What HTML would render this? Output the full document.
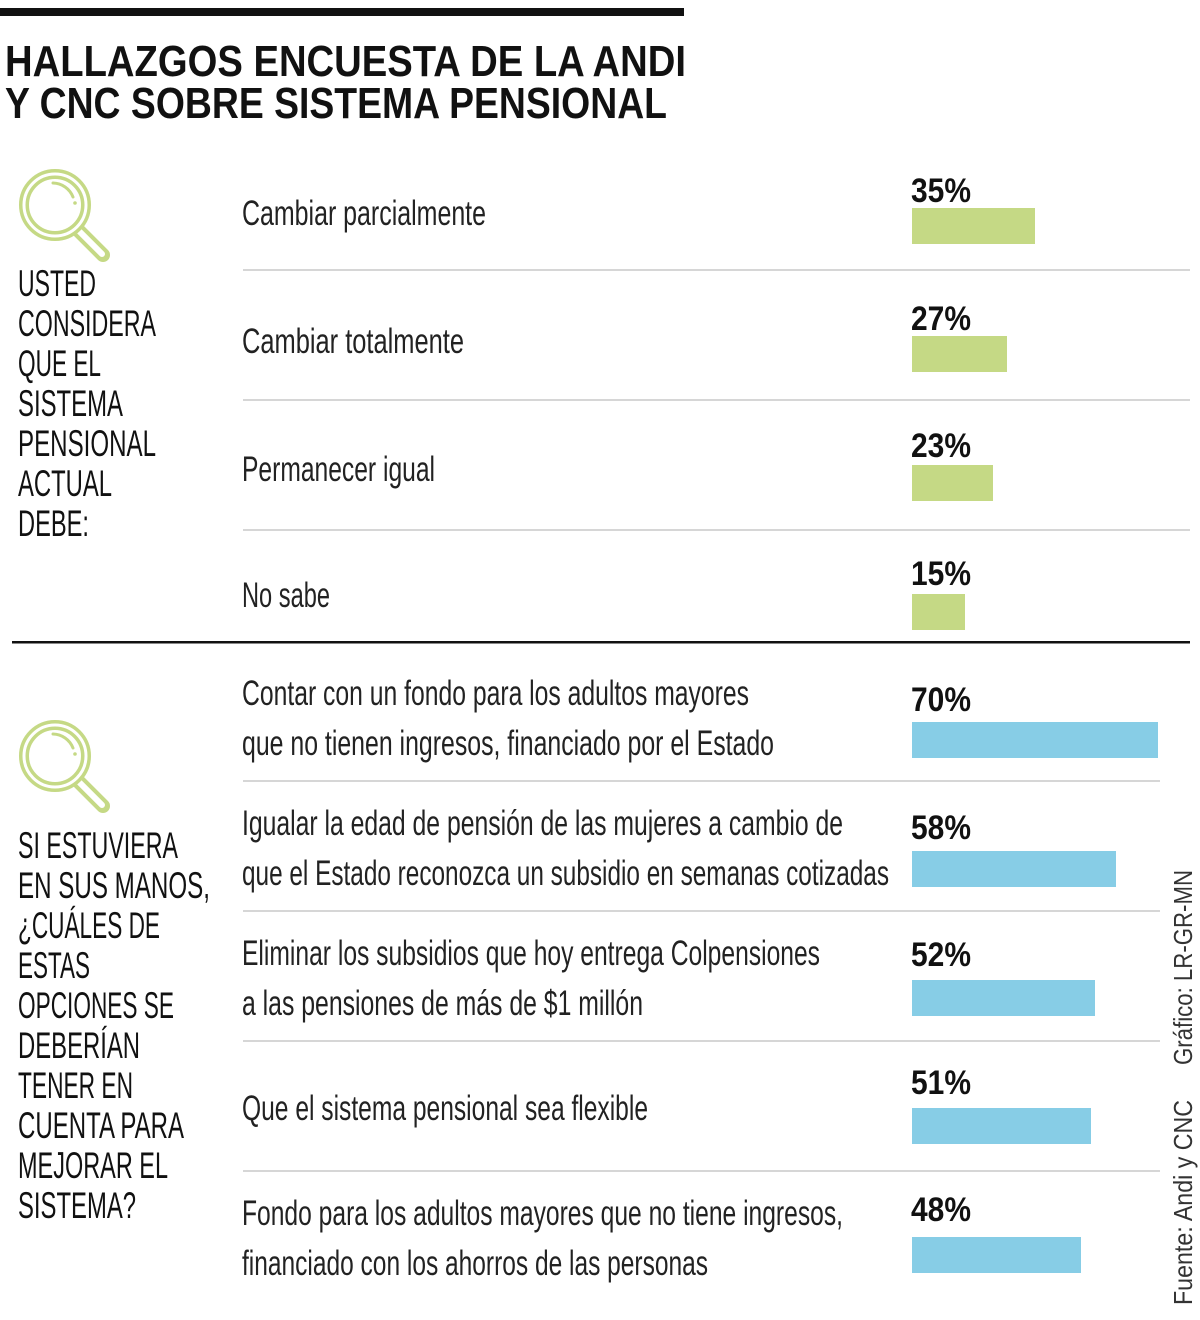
<!DOCTYPE html>
<html><head><meta charset="utf-8"><style>html,body{margin:0;padding:0;background:#fff}</style></head>
<body>
<svg width="1200" height="1315" viewBox="0 0 1200 1315" xmlns="http://www.w3.org/2000/svg" font-family="Liberation Sans, sans-serif">
<rect x="0" y="8" width="684" height="8" fill="#111"/>
<g font-weight="bold" font-size="44" fill="#111">
<text x="5" y="76" textLength="681" lengthAdjust="spacingAndGlyphs">HALLAZGOS ENCUESTA DE LA ANDI</text>
<text x="5" y="118" textLength="662" lengthAdjust="spacingAndGlyphs">Y CNC SOBRE SISTEMA PENSIONAL</text>
</g>
<defs>
<g id="mag">
<line x1="22" y1="24" x2="48" y2="50" stroke="#c5d985" stroke-width="14" stroke-linecap="round"/>
<line x1="24" y1="26" x2="47" y2="49" stroke="#fff" stroke-width="6" stroke-linecap="round"/>
<circle cx="0" cy="0" r="31" fill="#fff" stroke="#c5d985" stroke-width="10"/>
<circle cx="0" cy="0" r="31" fill="none" stroke="#fff" stroke-width="3"/>
<path d="M-2,-22 A22,22 0 0 1 18,-8" fill="none" stroke="#c5d985" stroke-width="3" stroke-linecap="round"/>
<circle cx="20" cy="-2" r="1.8" fill="#c5d985"/>
</g>
</defs>
<use href="#mag" x="55" y="205"/>
<use href="#mag" x="55" y="756"/>
<g font-size="37" fill="#111">
<text x="18" y="296" textLength="78" lengthAdjust="spacingAndGlyphs">USTED</text>
<text x="18" y="336" textLength="138" lengthAdjust="spacingAndGlyphs">CONSIDERA</text>
<text x="18" y="376" textLength="83" lengthAdjust="spacingAndGlyphs">QUE EL</text>
<text x="18" y="416" textLength="105" lengthAdjust="spacingAndGlyphs">SISTEMA</text>
<text x="18" y="456" textLength="138" lengthAdjust="spacingAndGlyphs">PENSIONAL</text>
<text x="18" y="496" textLength="94" lengthAdjust="spacingAndGlyphs">ACTUAL</text>
<text x="18" y="536" textLength="71" lengthAdjust="spacingAndGlyphs">DEBE:</text>
<text x="18" y="858" textLength="160" lengthAdjust="spacingAndGlyphs">SI ESTUVIERA</text>
<text x="18" y="898" textLength="192" lengthAdjust="spacingAndGlyphs">EN SUS MANOS,</text>
<text x="18" y="938" textLength="142" lengthAdjust="spacingAndGlyphs">¿CUÁLES DE</text>
<text x="18" y="978" textLength="72" lengthAdjust="spacingAndGlyphs">ESTAS</text>
<text x="18" y="1018" textLength="156" lengthAdjust="spacingAndGlyphs">OPCIONES SE</text>
<text x="18" y="1058" textLength="122" lengthAdjust="spacingAndGlyphs">DEBERÍAN</text>
<text x="18" y="1098" textLength="115" lengthAdjust="spacingAndGlyphs">TENER EN</text>
<text x="18" y="1138" textLength="166" lengthAdjust="spacingAndGlyphs">CUENTA PARA</text>
<text x="18" y="1178" textLength="150" lengthAdjust="spacingAndGlyphs">MEJORAR EL</text>
<text x="18" y="1218" textLength="118" lengthAdjust="spacingAndGlyphs">SISTEMA?</text>
</g>
<g stroke="#c8c8c8" stroke-width="1.5">
<line x1="243" y1="270" x2="1190" y2="270"/>
<line x1="243" y1="400" x2="1190" y2="400"/>
<line x1="243" y1="530" x2="1190" y2="530"/>
<line x1="243" y1="781" x2="1160" y2="781"/>
<line x1="243" y1="911" x2="1160" y2="911"/>
<line x1="243" y1="1041" x2="1160" y2="1041"/>
<line x1="243" y1="1171" x2="1160" y2="1171"/>
</g>
<rect x="12" y="641" width="1178" height="2.5" fill="#111"/>
<g font-size="35" fill="#222">
<text x="242" y="225" textLength="244" lengthAdjust="spacingAndGlyphs">Cambiar parcialmente</text>
<text x="242" y="353" textLength="222" lengthAdjust="spacingAndGlyphs">Cambiar totalmente</text>
<text x="242" y="481" textLength="193" lengthAdjust="spacingAndGlyphs">Permanecer igual</text>
<text x="242" y="607" textLength="88" lengthAdjust="spacingAndGlyphs">No sabe</text>
<text x="242" y="705" textLength="507" lengthAdjust="spacingAndGlyphs">Contar con un fondo para los adultos mayores</text>
<text x="242" y="755" textLength="532" lengthAdjust="spacingAndGlyphs">que no tienen ingresos, financiado por el Estado</text>
<text x="242" y="835" textLength="601" lengthAdjust="spacingAndGlyphs">Igualar la edad de pensión de las mujeres a cambio de</text>
<text x="242" y="885" textLength="647" lengthAdjust="spacingAndGlyphs">que el Estado reconozca un subsidio en semanas cotizadas</text>
<text x="242" y="965" textLength="578" lengthAdjust="spacingAndGlyphs">Eliminar los subsidios que hoy entrega Colpensiones</text>
<text x="242" y="1015" textLength="401" lengthAdjust="spacingAndGlyphs">a las pensiones de más de $1 millón</text>
<text x="242" y="1120" textLength="406" lengthAdjust="spacingAndGlyphs">Que el sistema pensional sea flexible</text>
<text x="242" y="1225" textLength="601" lengthAdjust="spacingAndGlyphs">Fondo para los adultos mayores que no tiene ingresos,</text>
<text x="242" y="1275" textLength="466" lengthAdjust="spacingAndGlyphs">financiado con los ahorros de las personas</text>
</g>
<g font-size="34" font-weight="bold" fill="#111">
<text x="911" y="202" textLength="60" lengthAdjust="spacingAndGlyphs">35%</text>
<text x="911" y="330" textLength="60" lengthAdjust="spacingAndGlyphs">27%</text>
<text x="911" y="457" textLength="60" lengthAdjust="spacingAndGlyphs">23%</text>
<text x="911" y="585" textLength="60" lengthAdjust="spacingAndGlyphs">15%</text>
<text x="911" y="711" textLength="60" lengthAdjust="spacingAndGlyphs">70%</text>
<text x="911" y="839" textLength="60" lengthAdjust="spacingAndGlyphs">58%</text>
<text x="911" y="966" textLength="60" lengthAdjust="spacingAndGlyphs">52%</text>
<text x="911" y="1094" textLength="60" lengthAdjust="spacingAndGlyphs">51%</text>
<text x="911" y="1221" textLength="60" lengthAdjust="spacingAndGlyphs">48%</text>
</g>
<g fill="#c5d985">
<rect x="912" y="208" width="123" height="36"/>
<rect x="912" y="336" width="95" height="36"/>
<rect x="912" y="465" width="81" height="36"/>
<rect x="912" y="594" width="53" height="36"/>
</g>
<g fill="#87cde6">
<rect x="912" y="722" width="246" height="36"/>
<rect x="912" y="851" width="204" height="36"/>
<rect x="912" y="980" width="183" height="36"/>
<rect x="912" y="1108" width="179" height="36"/>
<rect x="912" y="1237" width="169" height="36"/>
</g>
<g font-size="26" fill="#333">
<text transform="translate(1192,1305) rotate(-90)" textLength="205" lengthAdjust="spacingAndGlyphs">Fuente: Andi y CNC</text>
<text transform="translate(1192,1065) rotate(-90)" textLength="195" lengthAdjust="spacingAndGlyphs">Gráfico: LR-GR-MN</text>
</g>
</svg>
</body></html>
